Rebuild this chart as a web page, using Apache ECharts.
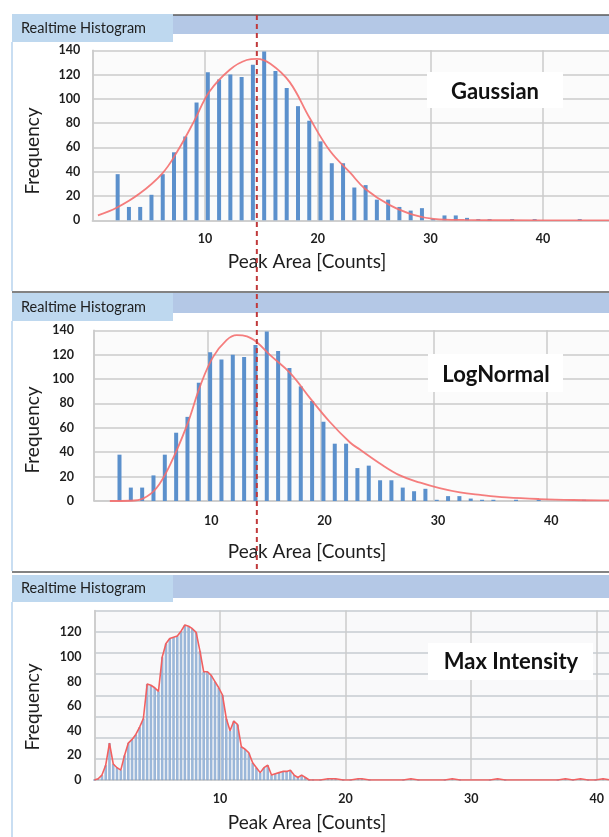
<!DOCTYPE html>
<html>
<head>
<meta charset="utf-8">
<script src="https://cdn.jsdelivr.net/npm/echarts@6/dist/echarts.min.js"></script>
<style>
  html, body { margin: 0; padding: 0; width: 609px; height: 837px; overflow: hidden; background: #fff; }
  #chart { width: 680px; height: 837px; }
</style>
</head>
<body>
<div id="chart"></div>
<script>
// Peak-area histogram (bin centres and counts), shared by the Gaussian and LogNormal views
const areaBins = [2.25, 3.25, 4.25, 5.25, 6.25, 7.25, 8.25, 9.25, 10.25, 11.25, 12.25, 13.25, 14.25, 15.25,
  16.25, 17.25, 18.25, 19.25, 20.25, 21.25, 22.25, 23.25, 24.25, 25.25, 26.25, 27.25, 28.25, 29.25,
  30.25, 31.25, 32.25, 33.25, 34.25, 35.25, 36.25, 37.25, 38.25, 39.25, 40.25, 41.25, 42.25, 43.25];
const areaCounts = [38, 11, 11, 21, 38, 56, 69, 97, 122, 116, 120, 118, 128, 139,
  123, 109, 94, 82, 65, 47, 47, 27, 29, 17, 17, 11, 8, 10,
  1, 4, 4, 2, 1, 1, 0, 1, 0, 1, 0, 0, 0, 1];

// Fitted curves: [peak area, frequency]
const gaussianFit = [[0.5, 4], [2.2, 10.5], [4.2, 22], [6.2, 38.5], [7.5, 56], [9, 81], [10.4, 106],
  [12.2, 124], [13.7, 132], [14.6, 133], [15.8, 129], [17.5, 114], [19.3, 84], [21.1, 57], [22.9, 39],
  [24.2, 26], [26.4, 12.5], [28.5, 4.5], [30.3, 1.2], [33, 0.3], [40, 0], [50, 0]];
const logNormalFit = [[1.4, 0], [3.2, 0.2], [4.35, 2.2], [5.5, 10.5], [6.7, 29.5], [8.2, 62], [9.4, 95],
  [10.5, 118], [11.7, 132], [12.6, 136], [13.5, 135], [14.4, 130], [15.5, 120], [17.3, 105], [19.1, 84],
  [20.8, 65], [22.6, 48], [23.5, 42], [25.2, 31], [27, 21], [28.8, 15], [30.5, 10.5], [32.3, 7], [34.1, 5],
  [36.4, 3], [39.3, 1.6], [42.3, 0.8], [45.2, 0.5], [50, 0.3]];

// Max-intensity histogram (fine bins)
const intensityBins = [0, 0.3, 0.6, 0.9, 1.2, 1.5, 1.8, 2.1, 2.4, 2.7, 3.0, 3.3, 3.6, 3.9, 4.2, 4.5, 4.8,
  5.1, 5.4, 5.7, 6.0, 6.3, 6.6, 6.9, 7.2, 7.5, 7.8, 8.1, 8.4, 8.7, 9.0, 9.3, 9.6, 9.9, 10.2, 10.5, 10.8,
  11.1, 11.4, 11.7, 12.0, 12.3, 12.6, 12.9, 13.2, 13.5, 13.8, 14.1, 14.4, 14.7, 15.0, 15.3, 15.6, 15.9,
  16.2, 16.5, 16.8, 17.1, 17.4, 18.0, 18.6, 18.9, 19.2, 19.8, 20.4, 21.0, 21.3, 21.9, 24.6, 25.2, 25.8,
  27.9, 28.5, 29.1, 31.5, 32.1, 32.7, 36.9, 37.5, 38.1, 38.7, 39.3, 39.9, 40.5, 41.1];
const intensityCounts = [0, 1, 4, 12, 30, 13, 10, 8, 20, 30, 33, 37, 43, 50, 78, 77, 75,
  72, 100, 111, 115, 116, 117, 121, 126, 125, 123, 120, 105, 88, 88, 85, 80, 75, 69, 50, 40,
  48, 45, 27, 25, 22, 14, 10, 6, 10, 12, 4, 5, 6, 7, 7, 8, 4,
  2, 4, 2, 0, 0, 0, 1, 1, 1, 0, 0, 1, 1, 0, 0, 1, 0,
  0, 1, 0, 0, 1, 0, 0, 1, 0, 1, 0, 0, 1, 0];

const meanPeakArea = 14.6;
const areaTicks = { min: 0, max: 140, interval: 20 };
const xTicks = { min: 0, interval: 10 };
const panelTitle = 'Realtime Histogram';
const fitNames = ['Gaussian', 'LogNormal', 'Max Intensity'];
const xName = 'Peak Area [Counts]';
const yName = 'Frequency';

const FONT = 'Lato, "Open Sans", sans-serif';
const GRID_COLOR = '#cbcbcb';
const TEXT_COLOR = '#1e1e1e';

const pair = (xs, ys) => xs.map((x, i) => [x, ys[i]]);

const chart = echarts.init(document.getElementById('chart'), null, { renderer: 'canvas' });

function xAxisCfg(gridIndex, max, labelPad, margin) {
  return {
    type: 'value', gridIndex, min: xTicks.min, max, interval: xTicks.interval,
    axisLine: { show: true, lineStyle: { color: GRID_COLOR, width: 1.5 } },
    axisTick: { show: false },
    splitLine: { show: true, lineStyle: { color: GRID_COLOR, width: 1.5 } },
    axisLabel: {
      showMinLabel: false, showMaxLabel: false, margin,
      color: TEXT_COLOR, fontFamily: FONT, fontWeight: 'bold', fontSize: 12.5,
      padding: labelPad
    }
  };
}
function yAxisCfg(gridIndex, max, margin, withSplit) {
  return {
    type: 'value', gridIndex, min: areaTicks.min, max, interval: areaTicks.interval,
    axisLine: { show: true, lineStyle: { color: GRID_COLOR, width: 1.5 } },
    axisTick: { show: false },
    splitLine: { show: withSplit, lineStyle: { color: GRID_COLOR, width: 1.5 } },
    axisLabel: {
      showMaxLabel: withSplit, margin, color: TEXT_COLOR, fontFamily: FONT,
      fontWeight: 'bold', fontSize: 12.5, padding: [6, 0, 0, 0]
    }
  };
}

const barStyle = { color: '#5b90cc' };
const fitLine = { color: '#f46f6f', width: 1.8, opacity: 0.9 };

const option = {
  animation: false,
  backgroundColor: '#ffffff',
  grid: [
    { left: 92.3, top: 50.3, width: 563.5, height: 170, show: true, backgroundColor: '#fbfbfb', borderWidth: 0 },
    { left: 94, top: 330.3, width: 566.5, height: 170.7, show: true, backgroundColor: '#fbfbfb', borderWidth: 0 },
    { left: 94.4, top: 610.5, width: 565.2, height: 169.5, show: true, backgroundColor: '#f9f9fa', borderWidth: 0 }
  ],
  xAxis: [
    xAxisCfg(0, 50, [0, 0, 0, 0], 12),
    xAxisCfg(1, 50, [0, 0, 0, 8], 13),
    xAxisCfg(2, 45, [0, 0, 0, 0], 12)
  ],
  yAxis: [
    yAxisCfg(0, areaTicks.max, 12, true),
    yAxisCfg(1, areaTicks.max, 20, true),
    yAxisCfg(2, 137.8, 13, false),
    {
      type: 'value', gridIndex: 2, min: 0, max: 8, interval: 1,
      axisLine: { show: false }, axisTick: { show: false }, axisLabel: { show: false },
      splitLine: { show: true, lineStyle: { color: '#c6cbd1', width: 1.5 } }
    }
  ],
  series: [
    { type: 'bar', xAxisIndex: 0, yAxisIndex: 0, barWidth: 4, itemStyle: barStyle, data: pair(areaBins, areaCounts) },
    { type: 'line', xAxisIndex: 0, yAxisIndex: 0, smooth: 0.4, symbol: 'none', lineStyle: fitLine, z: 5, data: gaussianFit },
    { type: 'bar', xAxisIndex: 1, yAxisIndex: 1, barWidth: 4, itemStyle: barStyle, data: pair(areaBins, areaCounts) },
    { type: 'line', xAxisIndex: 1, yAxisIndex: 1, smooth: 0.4, symbol: 'none', lineStyle: fitLine, z: 5, data: logNormalFit },
    { type: 'bar', xAxisIndex: 2, yAxisIndex: 2, barWidth: 2.2,
      itemStyle: { color: '#a9c3e3', borderColor: '#7399c6', borderWidth: 0.6 }, data: pair(intensityBins, intensityCounts) },
    { type: 'line', xAxisIndex: 2, yAxisIndex: 2, smooth: false, symbol: 'none',
      lineStyle: { color: '#f26060', width: 1.6 }, z: 5, data: pair(intensityBins, intensityCounts) }
  ]
};
chart.setOption(option);

// Panel chrome: header bars, tabs, side borders, axis titles and fit labels
function header(barTop, lineY, fullLine, tabTop, tabH, barH) {
  return [
    { type: 'rect', shape: { x: 172, y: barTop, width: 520, height: barH }, style: { fill: '#b4c8e6' } },
    { type: 'line', shape: { x1: fullLine ? 12 : 172, y1: lineY, x2: 700, y2: lineY }, style: { stroke: '#5a5a5a', lineWidth: 1.5 } },
    { type: 'rect', shape: { x: 12, y: tabTop, width: 161, height: tabH }, style: { fill: '#bed8ef' } },
    { type: 'text', x: 21, y: tabTop + tabH / 2, style: { text: panelTitle, font: '14.5px ' + FONT, fill: '#1e1e1e', verticalAlign: 'middle' } }
  ];
}
function sideBorder(y1, y2) {
  return { type: 'line', shape: { x1: 12, y1, x2: 12, y2 }, style: { stroke: '#c9def2', lineWidth: 2 } };
}
function yTitle(cy) {
  return { type: 'text', x: 33, y: cy, rotation: Math.PI / 2,
    style: { text: yName, font: '19px ' + FONT, fill: '#1e1e1e', align: 'center', verticalAlign: 'middle' } };
}
function xTitle(cy) {
  return { type: 'text', x: 307, y: cy,
    style: { text: xName, font: '19px ' + FONT, fill: '#1e1e1e', align: 'center', verticalAlign: 'middle' } };
}
function fitBox(x, y, w, h, cx, cy, name) {
  return [
    { type: 'rect', z: 10, shape: { x, y, width: w, height: h }, style: { fill: '#ffffff' } },
    { type: 'text', z: 11, x: cx, y: cy, style: { text: name, font: 'bold 22px ' + FONT, fill: '#111', align: 'center', verticalAlign: 'middle' } }
  ];
}

const meanX = chart.convertToPixel({ gridIndex: 0 }, [meanPeakArea, 0])[0];

const elements = [].concat(
  header(15, 15, false, 14, 28, 19),
  header(293, 292, true, 293, 28, 20),
  header(575, 572, true, 575, 27, 23),
  [sideBorder(42, 291), sideBorder(321, 571), sideBorder(602, 837)],
  [yTitle(151), yTitle(430), yTitle(707)],
  [xTitle(262), xTitle(552), xTitle(823)],
  fitBox(427, 72, 136, 36, 495, 91.5, fitNames[0]),
  fitBox(428, 354, 135, 38, 496, 375, fitNames[1]),
  fitBox(428, 643, 165, 37, 511, 662, fitNames[2]),
  [{ type: 'line', z: 20, shape: { x1: meanX, y1: 15, x2: meanX, y2: 572 },
     style: { stroke: '#c0393b', lineWidth: 2, lineDash: [5, 4] } }]
);
chart.setOption({ graphic: { elements } });
</script>
</body>
</html>
